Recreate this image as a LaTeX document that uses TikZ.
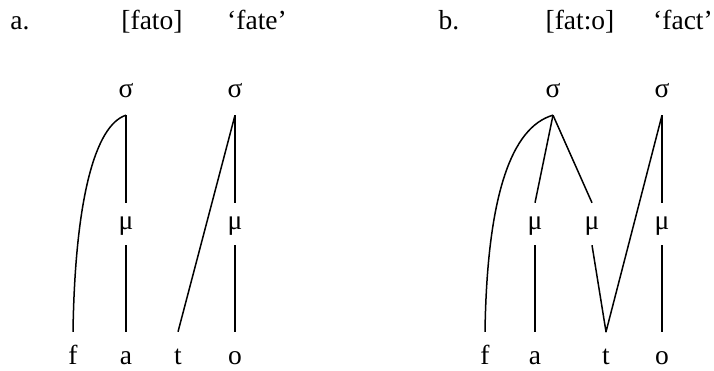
\documentclass[tikz,border=0pt]{standalone}
\usepackage{fontspec}
\setmainfont{Liberation Serif}
\begin{document}
\begin{tikzpicture}[x=1pt,y=1pt,
  every node/.style={font=\fontsize{27.5}{32}\selectfont, inner sep=0pt, anchor=base},
  sig/.style={text height=12pt, text depth=17pt},
  mora/.style={text height=27pt, text depth=15pt},
  seg/.style={text height=33pt, text depth=0pt},
  link/.style={line width=1.5pt, line join=round}]
\useasboundingbox (0,0) rectangle (714,371);

% titles
\node (la) at (20,341) {a.};
\node (ta) at (152,341) {[fato]};
\node (ga) at (257,341) {‘fate’};
\node (lb) at (449,341) {b.};
\node (tb) at (580,341) {[fat:o]};
\node (gb) at (683,341) {‘fact’};

% panel a
\node[sig] (s1) at (126,273) {σ};
\node[sig] (s2) at (235,273) {σ};
\node[mora] (m1) at (126,141) {μ};
\node[mora] (m2) at (235,141) {μ};
\node[seg] (f1) at (73,6) {f};
\node[seg] (a1) at (126,6) {a};
\node[seg] (t1) at (178,6) {t};
\node[seg] (o1) at (235,6) {o};

\draw[link] (f1.north) .. controls +(2,132) and +(-31,-10) .. (s1.south);
\draw[link] (s1.south) -- (m1.north);
\draw[link] (m1.south) -- (a1.north);
\draw[link] (t1.north) -- (s2.south);
\draw[link] (s2.south) -- (m2.north);
\draw[link] (m2.south) -- (o1.north);

% panel b
\node[sig] (s3) at (553,273) {σ};
\node[sig] (s4) at (662,273) {σ};
\node[mora] (m3) at (535,141) {μ};
\node[mora] (m4) at (592,141) {μ};
\node[mora] (m5) at (662,141) {μ};
\node[seg] (f2) at (485,6) {f};
\node[seg] (a2) at (535,6) {a};
\node[seg] (t2) at (606,6) {t};
\node[seg] (o2) at (662,6) {o};

\draw[link] (f2.north) .. controls +(2,135) and +(-42,-12) .. (s3.south);
\draw[link] (s3.south) -- (m3.north);
\draw[link] (s3.south) -- (m4.north);
\draw[link] (m3.south) -- (a2.north);
\draw[link] (m4.south) -- (t2.north) -- (s4.south);
\draw[link] (s4.south) -- (m5.north);
\draw[link] (m5.south) -- (o2.north);
\end{tikzpicture}
\end{document}
